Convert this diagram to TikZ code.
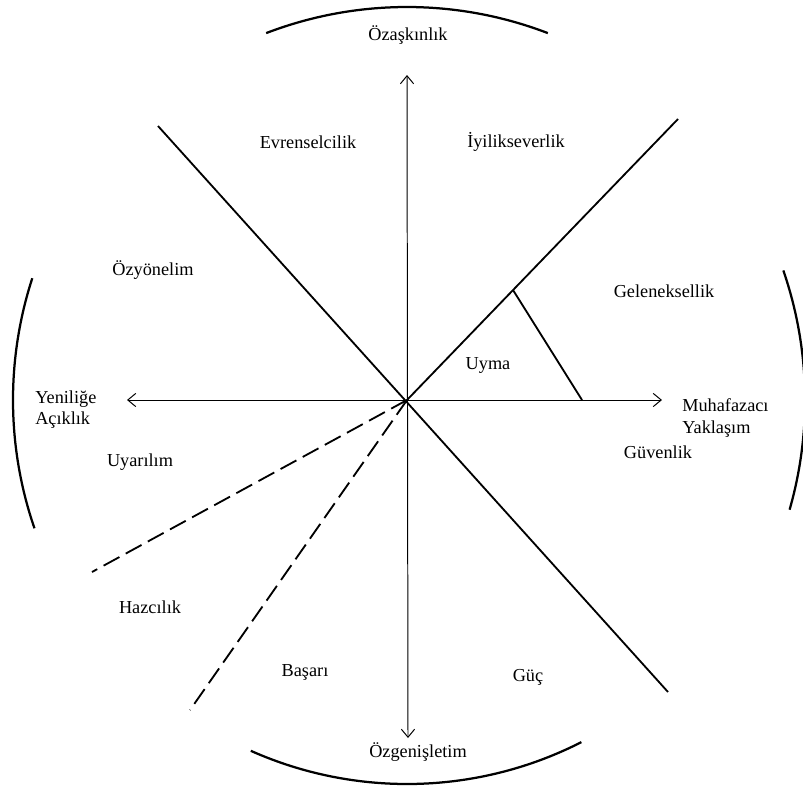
\documentclass[tikz,border=0pt]{standalone}
\usepackage{fontspec}
\setmainfont{Liberation Serif}
\usetikzlibrary{arrows.meta}
\begin{document}
\begin{tikzpicture}[x=0.025cm, y=-0.025cm,
    cizgi/.style={line width=1.3pt},
    kesik/.style={line width=1.3pt, dash pattern=on 0.45cm off 0.18cm},
    yay/.style={line width=1.6pt},
    eksen/.style={line width=0.7pt, {Straight Barb[length=2mm,width=3.3mm]}-{Straight Barb[length=2mm,width=3.3mm]}},
    etiket/.style={font=\fontsize{13}{15}\selectfont, inner sep=0pt}]
  \useasboundingbox (0,0) rectangle (803,785);

  % Merkez
  \coordinate (O) at (407,400);

  % Dış yaylar
  \draw[yay] (O) ++(-111:393) arc[start angle=-111, end angle=-69, radius=393];
  \draw[yay] (O) ++(161:394) arc[start angle=161, end angle=198, radius=394];
  \draw[yay] (O) ++(-19:398) arc[start angle=-19, end angle=16, radius=398];
  \draw[yay] (O) ++(63:384) arc[start angle=63, end angle=114, radius=384];

  % Eksenler
  \coordinate (Ust) at (407,75);
  \coordinate (Alt) at (408,738);
  \coordinate (Sol) at (127,400);
  \coordinate (Sag) at (662,400);
  \draw[eksen] (Ust) -- (Alt);
  \draw[eksen] (Sol) -- (Sag);

  % Bölge sınırları
  \coordinate (SolUst) at (158,126);
  \coordinate (SagAlt) at (668,692);
  \coordinate (SagUst) at (678,119);
  \draw[cizgi] (SolUst) -- (SagAlt);
  \draw[cizgi] (O) -- (SagUst);

  % Uyma üçgeni
  \coordinate (U1) at (513,290);
  \coordinate (U2) at (582,400);
  \draw[cizgi] (U1) -- (U2);

  % Kesikli sınırlar
  \coordinate (K1) at (92,572);
  \coordinate (K2) at (190,710);
  \draw[kesik] (O) -- (K1);
  \draw[kesik] (O) -- (K2);

  % Eksen etiketleri
  \node[etiket] (ozaskinlik) at (408,35) {Özaşkınlık};
  \node[etiket] (ozgenisletim) at (418,752) {Özgenişletim};
  \node[etiket, anchor=west, align=left] (yenilige) at (35,410) {Yeniliğe\\Açıklık};
  \node[etiket, anchor=west, align=left] (muhafazaci) at (682,418) {Muhafazacı\\Yaklaşım};

  % Değer etiketleri
  \node[etiket] (evrensel) at (308,142) {Evrenselcilik};
  \node[etiket] (iyilik) at (516,142) {İyilikseverlik};
  \node[etiket] (ozyonelim) at (153,270) {Özyönelim};
  \node[etiket] (gelenek) at (664,291) {Geleneksellik};
  \node[etiket] (uyma) at (488,365) {Uyma};
  \node[etiket] (uyarilim) at (140,462) {Uyarılım};
  \node[etiket] (guvenlik) at (658,452) {Güvenlik};
  \node[etiket] (hazcilik) at (150,607) {Hazcılık};
  \node[etiket] (basari) at (305,672) {Başarı};
  \node[etiket] (guc) at (528,677) {Güç};
\end{tikzpicture}
\end{document}
